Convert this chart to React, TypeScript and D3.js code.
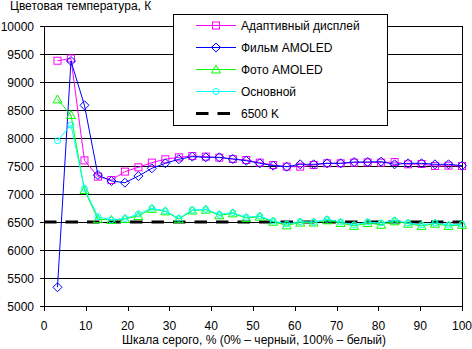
import React from "react";
import * as d3 from "d3";

const N = 31;
const xs: number[] = d3.range(1, N + 1).map((i) => (i * 100) / N);

const adaptive: number[] = [9380, 9420, 7600, 7310, 7250, 7400, 7477, 7560, 7620, 7655, 7679, 7667, 7649, 7625, 7607, 7560, 7518, 7488, 7488, 7518, 7548, 7548, 7560, 7565, 7560, 7571, 7530, 7536, 7500, 7506, 7500];
const film: number[] = [5334, 9375, 8584, 7339, 7232, 7202, 7321, 7459, 7548, 7620, 7667, 7655, 7655, 7625, 7595, 7548, 7506, 7488, 7530, 7530, 7548, 7548, 7571, 7571, 7577, 7530, 7548, 7548, 7530, 7530, 7506];
const foto: number[] = [8690, 8410, 7071, 6550, 6536, 6554, 6607, 6735, 6690, 6550, 6705, 6720, 6620, 6655, 6570, 6595, 6505, 6440, 6490, 6490, 6530, 6482, 6430, 6482, 6450, 6512, 6470, 6430, 6470, 6430, 6450];
const basic: number[] = [7950, 8232, 7100, 6595, 6536, 6560, 6643, 6744, 6696, 6565, 6714, 6726, 6637, 6667, 6583, 6607, 6518, 6464, 6506, 6500, 6548, 6500, 6446, 6500, 6482, 6530, 6482, 6446, 6482, 6446, 6458];
const refLevel = 6500;

const yTicks: number[] = d3.range(5000, 10001, 500);
const xTicks: number[] = d3.range(0, 101, 10);

const seriesNames: string[] = ["Адаптивный дисплей", "Фильм AMOLED", "Фото AMOLED", "Основной", "6500 K"];
const seriesColors: string[] = ["#FF00FF", "#0000FF", "#00FF00", "#00FFFF", "#000000"];
const seriesMarkers: string[] = ["square", "diamond", "triangle", "circle", "none"];
const seriesData: number[][] = [adaptive, film, foto, basic];

const yTitle = "Цветовая температура, К";
const xTitle = "Шкала серого, % (0% – черный, 100% – белый)";

const W = 472;
const H = 349;
const L = 44;
const R = 462;
const T = 26;
const B = 306;

const x = d3.scaleLinear().domain([0, 100]).range([L, R]);
const y = d3.scaleLinear().domain([5000, 10000]).range([B, T]);

function Marker({ type, cx, cy, color }: { type: string; cx: number; cy: number; color: string }) {
  if (type === "square") {
    return <rect x={cx - 3.5} y={cy - 3.5} width={7} height={7} fill="none" stroke={color} strokeWidth={1} />;
  }
  if (type === "diamond") {
    return <path d={`M${cx},${cy - 4.5}L${cx + 4.5},${cy}L${cx},${cy + 4.5}L${cx - 4.5},${cy}Z`} fill="none" stroke={color} strokeWidth={1} />;
  }
  if (type === "triangle") {
    return <path d={`M${cx},${cy - 4.5}L${cx + 4.5},${cy + 3.5}L${cx - 4.5},${cy + 3.5}Z`} fill="none" stroke={color} strokeWidth={1} />;
  }
  if (type === "circle") {
    return <circle cx={cx} cy={cy} r={3} fill="none" stroke={color} strokeWidth={1} />;
  }
  return null;
}

export default function App() {
  const line = d3
    .line<number>()
    .x((_, i) => x(xs[i]))
    .y((d) => y(d));

  const font = "'Liberation Sans', Arial, sans-serif";
  const legX = 173.5;
  const legY = 14.5;
  const legW = 214;
  const legH = 111;
  const rowY = (i: number) => 25.5 + i * 22;

  return (
    <svg width={W} height={H} style={{ position: "absolute", left: 0, top: 0, background: "#fff" }} fontFamily={font} fontSize={12}>
      <rect x={0} y={0} width={W} height={H} fill="#fff" />
      {/* gridlines */}
      {yTicks.map((t) => (
        <line key={"g" + t} x1={L - 4} x2={R} y1={Math.round(y(t)) + 0.5} y2={Math.round(y(t)) + 0.5} stroke="#000" strokeWidth={1} />
      ))}
      {/* axes */}
      <line x1={L + 0.5} x2={L + 0.5} y1={T} y2={B + 1} stroke="#000" />
      <line x1={R + 0.5} x2={R + 0.5} y1={T} y2={B + 1} stroke="#000" />
      {xTicks.map((t) => (
        <line key={"xt" + t} x1={Math.round(x(t)) + 0.5} x2={Math.round(x(t)) + 0.5} y1={B} y2={B + 5} stroke="#000" />
      ))}
      {yTicks.map((t) => (
        <text key={"yl" + t} x={34} y={y(t) + 4.5} textAnchor="end" fill="#000">
          {t}
        </text>
      ))}
      {xTicks.map((t) => (
        <text key={"xl" + t} x={x(t)} y={330} textAnchor="middle" fill="#000">
          {t}
        </text>
      ))}
      <text x={10} y={10} fill="#000">{yTitle}</text>
      <text x={254} y={344} textAnchor="middle" fill="#000">{xTitle}</text>

      {/* 6500 K reference */}
      <line x1={L} x2={R} y1={y(refLevel)} y2={y(refLevel)} stroke="#000" strokeWidth={3} strokeDasharray="12.5 9" />

      {/* series */}
      {seriesData.map((d, si) => (
        <g key={"s" + si}>
          <path d={line(d) || ""} fill="none" stroke={seriesColors[si]} strokeWidth={1} />
          {d.map((v, i) => (
            <Marker key={i} type={seriesMarkers[si]} cx={x(xs[i])} cy={y(v)} color={seriesColors[si]} />
          ))}
        </g>
      ))}

      {/* legend */}
      <rect x={legX} y={legY} width={legW} height={legH} fill="#fff" stroke="#000" strokeWidth={1} />
      {seriesNames.map((name, i) => (
        <g key={"lg" + i}>
          {seriesMarkers[i] === "none" ? (
            <line x1={196} x2={231} y1={rowY(i)} y2={rowY(i)} stroke="#000" strokeWidth={3} strokeDasharray="12.5 9" />
          ) : (
            <>
              <line x1={196} x2={236} y1={rowY(i)} y2={rowY(i)} stroke={seriesColors[i]} strokeWidth={1} />
              <Marker type={seriesMarkers[i]} cx={216} cy={rowY(i)} color={seriesColors[i]} />
            </>
          )}
          <text x={241} y={rowY(i) + 4.5} fill="#000">
            {name}
          </text>
        </g>
      ))}
    </svg>
  );
}
